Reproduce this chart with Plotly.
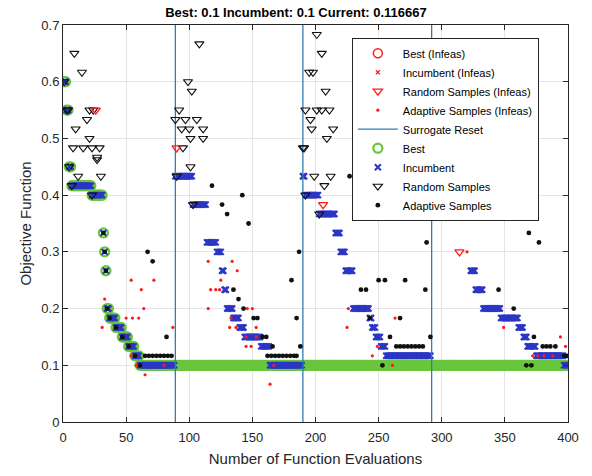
import numpy as np
import plotly.graph_objects as go

# ---------------- data ----------------
n_evals = 400
reset_evals = [89, 190, 292]

# best-so-far: evaluation where the value changes, and the new value
best_change_evals = [1, 3, 5, 7, 23, 32, 33, 34, 35, 37, 42, 47, 52, 57, 61]
best_change_vals = [0.6, 0.55, 0.45, 0.4167, 0.4, 0.3333, 0.3, 0.2667, 0.2,
                    0.1833, 0.1667, 0.15, 0.1333, 0.1167, 0.1]

# incumbent (restarts at each surrogate reset)
inc_change_evals = [1, 3, 5, 7, 23, 32, 33, 34, 35, 37, 42, 47, 52, 57, 61,
                    89, 103, 114, 122, 126, 128, 130, 135, 140, 144, 157, 164,
                    190, 192, 203, 216, 220, 224, 230, 243, 245, 248, 252, 256,
                    292, 307, 320, 323, 327, 333, 347, 361, 365, 368, 375, 397]
inc_change_vals = [0.6, 0.55, 0.45, 0.4167, 0.4, 0.3333, 0.3, 0.2667, 0.2,
                   0.1833, 0.1667, 0.15, 0.1333, 0.1167, 0.1,
                   0.4333, 0.3833, 0.3167, 0.3, 0.2667, 0.2333, 0.2, 0.1833,
                   0.1667, 0.15, 0.1333, 0.1,
                   0.4333, 0.4, 0.3667, 0.3333, 0.3, 0.2667, 0.2, 0.1833,
                   0.1667, 0.15, 0.1333, 0.1167,
                   0.4333, 0.4, 0.3667, 0.2667, 0.2333, 0.2, 0.1833, 0.1667,
                   0.15, 0.1333, 0.1167, 0.1]

# random samples (feasible)
rand_x = [1, 3, 4, 5, 7, 8, 9, 10, 12, 15, 16, 19, 21, 21, 23, 23, 24, 27, 27, 29, 30,
          89, 90, 92, 94, 95, 97, 99, 100, 101, 101, 102, 103, 106, 108, 111, 111,
          190, 191, 192, 192, 195, 196, 197, 198, 199, 201, 201, 203, 205, 205,
          207, 208, 209, 211, 212, 214,
          307]
rand_y = [0.6, 0.55, 0.55, 0.45, 0.4167, 0.4833, 0.65, 0.5167, 0.4333, 0.6167, 0.4833,
          0.5333, 0.55, 0.5, 0.4833, 0.4, 0.55, 0.4667, 0.4625, 0.4833, 0.4333,
          0.5333, 0.4333, 0.55, 0.5167, 0.4833, 0.5333, 0.6, 0.5167, 0.5, 0.45,
          0.5833, 0.3833, 0.5333, 0.6667, 0.5167, 0.5,
          0.4833, 0.4833, 0.55, 0.4, 0.6167, 0.5333, 0.5167, 0.6167, 0.4333, 0.6833,
          0.55, 0.3667, 0.65, 0.55, 0.4167, 0.5833, 0.5, 0.55, 0.4333, 0.5167,
          0.4]

# random samples (infeasible)
rand_inf_x = [26, 90, 206, 314]
rand_inf_y = [0.55, 0.4833, 0.3833, 0.3]

# adaptive samples (feasible)
adapt_x = [32, 33, 34, 35, 37, 42, 47, 52, 57, 61, 67, 71, 82,
           65, 68, 71, 74, 77, 80, 83, 86,
           118, 126, 130, 142, 147, 135, 139, 143, 151, 154, 158, 161, 166,
           162, 165, 168, 171, 174, 177, 180, 183, 185, 181, 185, 187, 188,
           227, 232, 236, 240, 243, 250, 255, 259, 253,
           264, 267, 270, 273, 276, 279, 282, 285,
           267, 271, 287, 288, 291,
           337, 369, 377, 345, 357, 373, 380, 383, 386, 390, 397, 399, 367, 371]
adapt_y = [0.3333, 0.3, 0.2667, 0.2, 0.1833, 0.1667, 0.15, 0.1333, 0.1167, 0.1, 0.3, 0.2833, 0.15,
           0.1167, 0.1167, 0.1167, 0.1167, 0.1167, 0.1167, 0.1167, 0.1167,
           0.4167, 0.3833, 0.3667, 0.4, 0.35, 0.2333, 0.2167, 0.2, 0.1833, 0.1833, 0.15, 0.15, 0.1333,
           0.1167, 0.1167, 0.1167, 0.1167, 0.1167, 0.1167, 0.1167, 0.1167, 0.1167, 0.25, 0.1833, 0.3, 0.1333,
           0.4333, 0.4, 0.2333, 0.2333, 0.1833, 0.25, 0.25, 0.15, 0.1,
           0.1333, 0.1333, 0.1333, 0.1333, 0.1333, 0.1333, 0.1333, 0.1333,
           0.1833, 0.25, 0.2333, 0.3167, 0.15,
           0.4, 0.3333, 0.3167, 0.2333, 0.2, 0.15, 0.1333, 0.1333, 0.1333, 0.1333, 0.1167, 0.1167, 0.1, 0.1]

# adaptive samples (infeasible)
adapt_inf_x = [33, 31, 54, 72, 62, 64, 50, 55, 60, 87, 54, 58, 80, 65,
               115, 134, 138, 125, 117, 121, 124, 115, 146, 150, 133, 132, 137, 153,
               145, 153, 145, 149, 167, 164,
               232, 226, 225, 249, 245, 263, 261,
               320, 349, 394, 398, 372, 376, 381, 388]
adapt_inf_y = [0.2167, 0.1667, 0.25, 0.25, 0.2333, 0.2, 0.1833, 0.1833, 0.1833, 0.1667, 0.1167, 0.1, 0.1, 0.0833,
               0.2833, 0.2833, 0.2667, 0.25, 0.2333, 0.2333, 0.2333, 0.2, 0.2, 0.2, 0.1833, 0.1667, 0.1667, 0.1667,
               0.15, 0.15, 0.1333, 0.1333, 0.1, 0.0667,
               0.4, 0.2, 0.1667, 0.1333, 0.1167, 0.1833, 0.1,
               0.3, 0.1667, 0.15, 0.1333, 0.1167, 0.1167, 0.1167, 0.1167]

title_text = "Best: 0.1 Incumbent: 0.1 Current: 0.116667"
x_ticks = [0, 50, 100, 150, 200, 250, 300, 350, 400]
y_ticks = [0, 0.1, 0.2, 0.3, 0.4, 0.5, 0.6, 0.7]

# ---------------- build held traces ----------------
evals = np.arange(1, n_evals + 1)


def held(change_evals, change_vals):
    idx = np.searchsorted(np.array(change_evals), evals, side="right") - 1
    return np.array(change_vals)[idx]


best_y = held(best_change_evals, best_change_vals)
inc_y = held(inc_change_evals, inc_change_vals)

reset_x, reset_y = [], []
for r in reset_evals:
    reset_x += [r, r, None]
    reset_y += [y_ticks[0], y_ticks[-1], None]

FONT = "Liberation Sans, Arial, Helvetica, sans-serif"
RED = "#FF1A1A"
GREEN = "#69C63E"
BLUE = "#2B36C4"
RESET = "#2E7DB8"

fig = go.Figure()

# drawing order (bottom -> top), legend order controlled by legendrank
fig.add_trace(go.Scatter(x=evals, y=best_y, mode="markers", name="Best", legendrank=6,
                         marker=dict(symbol="circle-open", size=9, color=GREEN,
                                     line=dict(width=2.3, color=GREEN))))
fig.add_trace(go.Scatter(x=evals, y=inc_y, mode="markers", name="Incumbent", legendrank=7,
                         marker=dict(symbol="x-thin-open", size=6, color=BLUE,
                                     line=dict(width=2, color=BLUE))))
fig.add_trace(go.Scatter(x=reset_x, y=reset_y, mode="lines", name="Surrogate Reset", legendrank=5,
                         line=dict(color=RESET, width=1.3)))
fig.add_trace(go.Scatter(x=rand_x, y=rand_y, mode="markers", name="Random Samples", legendrank=8,
                         marker=dict(symbol="triangle-down-open", size=8, color="#111111",
                                     line=dict(width=1.1, color="#111111"))))
fig.add_trace(go.Scatter(x=adapt_x, y=adapt_y, mode="markers", name="Adaptive Samples", legendrank=9,
                         marker=dict(symbol="circle", size=4.8, color="#111111")))
fig.add_trace(go.Scatter(x=[None], y=[None], mode="markers", name="Best (Infeas)", legendrank=1,
                         marker=dict(symbol="circle-open", size=9, color=RED,
                                     line=dict(width=1.5, color=RED))))
fig.add_trace(go.Scatter(x=[None], y=[None], mode="markers", name="Incumbent (Infeas)", legendrank=2,
                         marker=dict(symbol="x-thin-open", size=4, color=RED,
                                     line=dict(width=1.2, color=RED))))
fig.add_trace(go.Scatter(x=rand_inf_x, y=rand_inf_y, mode="markers", name="Random Samples (Infeas)",
                         legendrank=3,
                         marker=dict(symbol="triangle-down-open", size=8, color=RED,
                                     line=dict(width=1.3, color=RED))))
fig.add_trace(go.Scatter(x=adapt_inf_x, y=adapt_inf_y, mode="markers", name="Adaptive Samples (Infeas)",
                         legendrank=4,
                         marker=dict(symbol="circle", size=3.2, color=RED)))

axis_common = dict(showgrid=True, gridcolor="#E4E4E4", gridwidth=1, zeroline=False,
                   showline=True, linecolor="#262626", linewidth=1, mirror="ticks",
                   ticks="inside", ticklen=5, tickcolor="#262626",
                   tickfont=dict(family=FONT, size=13, color="#262626"))

fig.update_layout(
    width=592, height=476, autosize=False,
    paper_bgcolor="white", plot_bgcolor="white",
    margin=dict(l=63, r=24, t=25, b=51),
    font=dict(family=FONT, color="#262626"),
    title=dict(text="<b>" + title_text + "</b>", x=0.5, xref="container", xanchor="center",
               y=0.973, yref="container", yanchor="middle",
               font=dict(family=FONT, size=13, color="#000000")),
    xaxis=dict(range=[x_ticks[0], x_ticks[-1]], tickvals=x_ticks, ticklabelstandoff=3,
               title=dict(text="Number of Function Evaluations", standoff=9,
                          font=dict(family=FONT, size=15, color="#262626")),
               **axis_common),
    yaxis=dict(range=[y_ticks[0], y_ticks[-1]], tickvals=y_ticks,
               title=dict(text="Objective Function", standoff=6,
                          font=dict(family=FONT, size=15, color="#262626")),
               **axis_common),
    legend=dict(x=0.572, y=0.968, xanchor="left", yanchor="top",
                bgcolor="white", bordercolor="#262626", borderwidth=1,
                font=dict(family=FONT, size=11, color="#000000"),
                itemwidth=40, tracegroupgap=0),
    showlegend=True,
)

fig.write_html("out.html", config={"displayModeBar": False},
               post_script="document.body.style.margin='0';")
